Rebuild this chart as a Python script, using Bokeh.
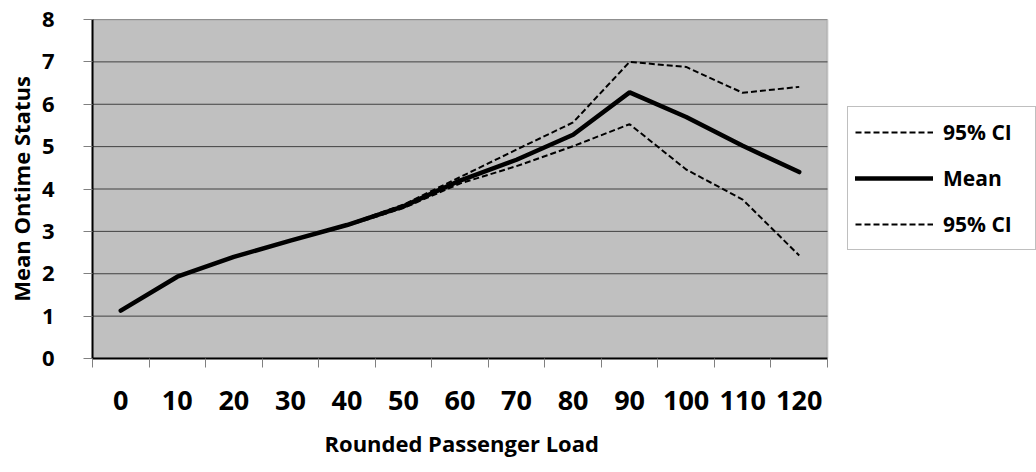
from bokeh.plotting import figure
from bokeh.models import (Range1d, FixedTicker, Legend, LegendItem, ColumnDataSource,
                          BoxAnnotation, Title)
from bokeh.embed import file_html
from bokeh.resources import INLINE

# ---- data ----
loads = [0, 10, 20, 30, 40, 50, 60, 70, 80, 90, 100, 110, 120]
mean = [1.13, 1.93, 2.40, 2.78, 3.15, 3.59, 4.20, 4.69, 5.28, 6.28, 5.70, 5.02, 4.40]
ci_upper = [1.13, 1.93, 2.40, 2.78, 3.16, 3.63, 4.28, 4.93, 5.57, 7.00, 6.88, 6.27, 6.41]
ci_lower = [1.13, 1.93, 2.40, 2.78, 3.13, 3.55, 4.13, 4.54, 5.01, 5.53, 4.46, 3.75, 2.43]
y_ticks = [0, 1, 2, 3, 4, 5, 6, 7, 8]
x_title = "Rounded Passenger Load"
y_title = "Mean Ontime Status"

src = ColumnDataSource(dict(x=loads, mean=mean, up=ci_upper, lo=ci_lower))

FONT = "Open Sans"
W, H = 1036, 470
LEFT, TOP, BOTTOM = 92, 19, 111
PLOT_PX = 735                     # pixel width of the grey plot area
X0, X1 = -5, 125                  # data extent of the grey plot area
frame_px = W - LEFT
x_end = X0 + (X1 - X0) * frame_px / PLOT_PX   # frame extends under the legend

p = figure(width=W, height=H, output_backend="svg", toolbar_location=None,
           x_range=Range1d(X0, x_end), y_range=Range1d(0, 8),
           min_border_left=LEFT, min_border_right=0, min_border_top=TOP,
           min_border_bottom=BOTTOM)

p.background_fill_color = "white"
p.border_fill_color = "white"
p.outline_line_color = None
p.xgrid.visible = False
p.ygrid.visible = False

# grey plot area with its border
p.add_layout(BoxAnnotation(left=X0, right=X1, bottom=0, top=8,
                           fill_color="#C0C0C0", fill_alpha=1,
                           line_color="#808080", line_width=2, level="underlay"))
# horizontal gridlines at the y ticks, limited to the plot area
p.segment(x0=[X0] * len(y_ticks), x1=[X1] * len(y_ticks), y0=y_ticks, y1=y_ticks,
          line_color="#404040", line_width=1)

# axes
p.xaxis.ticker = FixedTicker(ticks=loads, minor_ticks=[v - 5 for v in loads] + [125])
p.xaxis.bounds = (X0, X1)
p.yaxis.ticker = FixedTicker(ticks=y_ticks, minor_ticks=[])
for ax in (p.xaxis[0], p.yaxis[0]):
    ax.axis_line_color = "black"
    ax.axis_line_width = 2
    ax.major_label_text_font = FONT
    ax.major_label_text_font_style = "bold"
    ax.major_label_text_color = "black"
    ax.axis_label_text_font = FONT
    ax.axis_label_text_font_style = "bold"
    ax.axis_label_text_color = "black"

p.xaxis.major_tick_out = 0
p.xaxis.major_tick_in = 0
p.xaxis.minor_tick_out = 9
p.xaxis.minor_tick_in = 0
p.xaxis.minor_tick_line_color = "#808080"
p.xaxis.major_label_text_font_size = "27px"
p.xaxis.major_label_standoff = 23

p.yaxis.major_tick_out = 9
p.yaxis.major_tick_in = 0
p.yaxis.major_tick_line_color = "#808080"
p.yaxis.minor_tick_line_color = None
p.yaxis.major_label_text_font_size = "22px"
p.yaxis.major_label_standoff = 29
p.yaxis.axis_label = y_title
p.yaxis.axis_label_text_font_size = "22px"
p.yaxis.axis_label_standoff = 3

# x axis title, placed under the centre of the grey plot area (not the wider frame)
p.add_layout(Title(text=x_title, align="left", offset=232,
                   text_font=FONT, text_font_style="bold", text_font_size="22px",
                   text_color="black", standoff=26), "below")

# series (drawn in Excel series order)
r_up = p.line("x", "up", source=src, line_color="black", line_width=2, line_dash="6 3")
r_mean = p.line("x", "mean", source=src, line_color="black", line_width=4.5,
                line_cap="round")
r_lo = p.line("x", "lo", source=src, line_color="black", line_width=2, line_dash="6 3")

legend = Legend(items=[
    LegendItem(label="95% CI", renderers=[r_up]),
    LegendItem(label="Mean", renderers=[r_mean]),
    LegendItem(label="95% CI", renderers=[r_lo]),
], location=(PLOT_PX + 20, 108))
legend.label_text_font = FONT
legend.label_text_font_style = "bold"
legend.label_text_font_size = "21px"
legend.label_text_color = "black"
legend.glyph_width = 78
legend.glyph_height = 36
legend.label_height = 36
legend.label_width = 85
legend.label_standoff = 10
legend.spacing = 10
legend.padding = 7
legend.margin = 0
legend.border_line_color = "#808080"
legend.border_line_width = 1
legend.background_fill_color = "white"
legend.background_fill_alpha = 1
p.add_layout(legend, "center")

open("out.html", "w").write(file_html(p, INLINE))
